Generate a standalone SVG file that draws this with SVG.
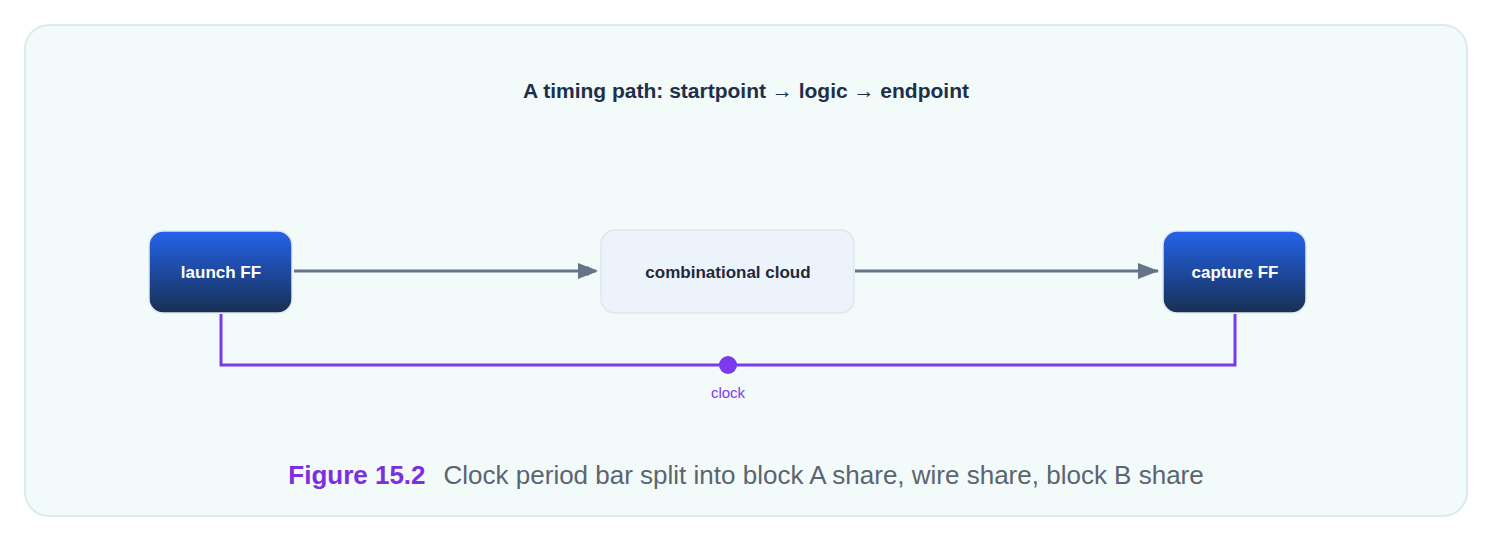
<svg xmlns="http://www.w3.org/2000/svg" width="1494" height="543" viewBox="0 0 1494 543">
<style>
.ff{stroke:#e2e8f0;stroke-width:1.5}
.lbl{font-family:"Liberation Sans",Arial,sans-serif;font-weight:bold;font-size:17px;text-anchor:middle}
.wire{stroke:#64748b;stroke-width:3;fill:none}
.clk{stroke:#7c3aed;stroke-width:3;fill:none}
</style>
<defs>
<linearGradient id="g" x1="0" y1="0" x2="0" y2="1"><stop offset="0" stop-color="#2563eb"/><stop offset="1" stop-color="#172f52"/></linearGradient>
<marker id="a" markerWidth="10" markerHeight="10" refX="9" refY="5" orient="auto" markerUnits="userSpaceOnUse" viewBox="0 0 10 10"><path d="M0,0 L10,5 L0,10Z" fill="#64748b"/></marker>
</defs>
<rect x="25" y="25" width="1442" height="491" rx="24" fill="#f2fafa" stroke="#dcebee" stroke-width="2"/>
<text x="746" y="98" class="lbl" font-size="21" fill="#1e2f4a" style="font-size:21px">A timing path: startpoint → logic → endpoint</text>
<g id="connectors">
<path class="wire" d="M294 271 H596" marker-end="url(#a)" stroke-width="3"/>
<path d="M578 263 L598 271 L578 279Z" fill="#64748b"/>
<path class="wire" d="M855 271 H1158"/>
<path d="M1138 263 L1159 271 L1138 279Z" fill="#64748b"/>
<path class="clk" d="M221 314 V365 H1235 V314"/>
<circle cx="728" cy="365" r="9" fill="#7c3aed"/>
<text x="728" y="398" font-family="Liberation Sans,Arial,sans-serif" font-size="15" fill="#7c3aed" text-anchor="middle">clock</text>
</g>
<g id="launch"><rect x="149" y="231" width="143" height="82" rx="14" fill="url(#g)" class="ff"/><text x="221" y="278" class="lbl" fill="#fff">launch FF</text></g>
<g id="cloud"><rect x="601" y="230" width="253" height="83" rx="14" fill="#edf3fb" stroke="#e0e6ee" stroke-width="1.5"/><text x="728" y="278" class="lbl" fill="#1e293b">combinational cloud</text></g>
<g id="capture"><rect x="1163" y="231" width="143" height="82" rx="14" fill="url(#g)" class="ff"/><text x="1235" y="278" class="lbl" fill="#fff">capture FF</text></g>
<text x="746" y="484" font-family="Liberation Sans,Arial,sans-serif" font-size="26" text-anchor="middle"><tspan fill="#7c2ee0" font-weight="bold">Figure 15.2</tspan><tspan fill="#5b6570" dx="18">Clock period bar split into block A share, wire share, block B share</tspan></text>
</svg>
